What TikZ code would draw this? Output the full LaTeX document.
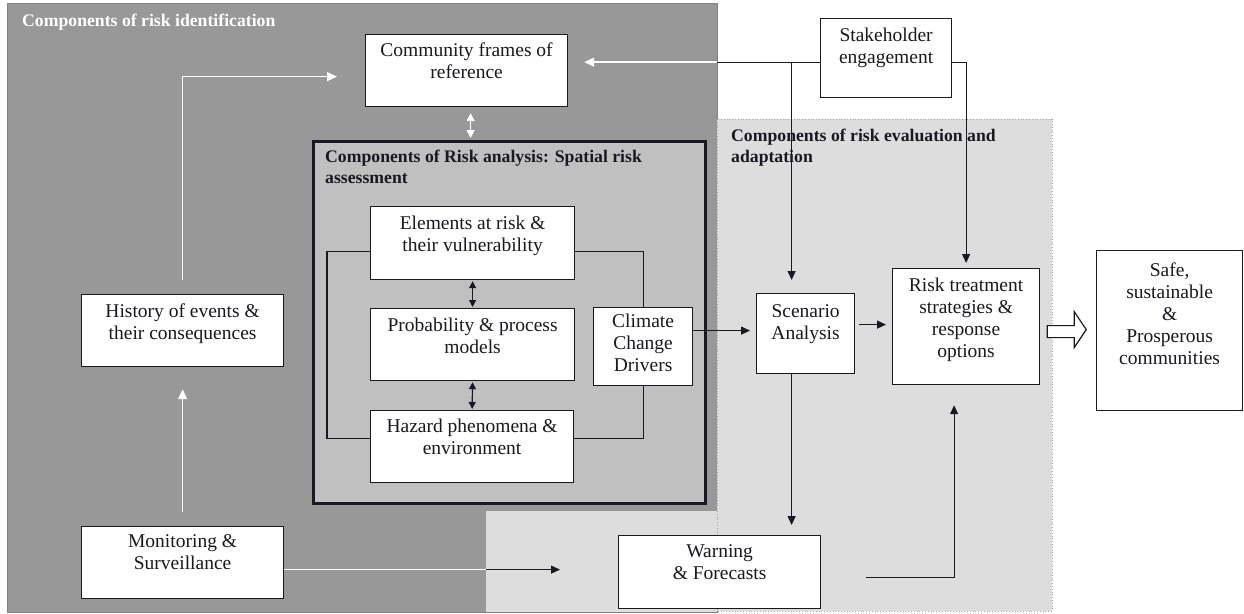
\documentclass[tikz,border=0pt]{standalone}
\usepackage{fontspec}
\setmainfont{Liberation Serif}
\usetikzlibrary{arrows.meta,calc}
\definecolor{darkreg}{RGB}{152,152,152}
\definecolor{anareg}{RGB}{192,192,192}
\definecolor{evalreg}{RGB}{221,221,221}
\definecolor{ink}{RGB}{25,25,35}
\newcommand\bxt[4]{\parbox[c][#2][t]{#1}{\centering\rule{0pt}{#3}#4}}
\begin{document}
\begin{tikzpicture}[x=1pt,y=-1pt,
  box/.style={draw=ink, line width=1.2pt, fill=white, inner sep=0pt, anchor=north west, text=ink, font=\fontsize{19.5}{22}\selectfont},
  conn/.style={draw=ink, line width=1.2pt},
  arr/.style={conn, -{Triangle[length=9pt,width=8pt]}},
  darr/.style={conn, {Triangle[length=7pt,width=7pt]}-{Triangle[length=7pt,width=7pt]}},
  wline/.style={draw=white, line width=1.3pt},
  warr/.style={wline, -{Triangle[length=10pt,width=9pt]}},
  wdarr/.style={wline, {Triangle[length=8pt,width=8pt]}-{Triangle[length=8pt,width=8pt]}},
  head/.style={inner sep=0pt, anchor=north west, align=left, font=\fontsize{17.7}{21}\selectfont\bfseries}
]
\useasboundingbox (0,0) rectangle (1244,613);
\fill[white] (0,0) rectangle (1244,613);
% regions
\filldraw[fill=darkreg, draw=darkreg!85!black, line width=0.6pt] (7,3) rectangle (717,612);
\filldraw[fill=evalreg, draw=gray!70, dotted, line width=0.8pt] (717,119) rectangle (1052,611);
\fill[evalreg] (486,511) rectangle (717,612);
\node[draw=ink, line width=2.5pt, fill=anareg, inner sep=0pt, minimum width=392pt, minimum height=362pt, anchor=north west] (ana) at (312,140) {};
% headings
\node[head, text=white] (hid) at (22,11) {\rule{0pt}{15pt}Components of risk identification};
\node[head, text=ink] (han) at (325,147) {\rule{0pt}{15pt}Components of Risk analysis: Spatial risk\\assessment};
\node[head, text=ink] (hev) at (731,126) {\rule{0pt}{15pt}Components of risk evaluation and\\adaptation};
% boxes
\node[box] (comm) at (365,34) {\bxt{202pt}{72pt}{22pt}{Community frames of\\reference}};
\node[box] (stake) at (820,18) {\bxt{131pt}{79pt}{23pt}{Stakeholder\\engagement}};
\node[box] (elem) at (370,206) {\bxt{204pt}{73pt}{23pt}{Elements at risk \&\\their vulnerability}};
\node[box] (prob) at (370,308) {\bxt{204pt}{72pt}{23pt}{Probability \& process\\models}};
\node[box] (haz) at (370,410) {\bxt{203pt}{72pt}{22pt}{Hazard phenomena \&\\environment}};
\node[box] (clim) at (593,307) {\bxt{99pt}{78pt}{20pt}{Climate\\Change\\Drivers}};
\node[box] (hist) at (81,294) {\bxt{202pt}{72pt}{23pt}{History of events \&\\their consequences}};
\node[box] (mon) at (81,526) {\bxt{202pt}{72pt}{21pt}{Monitoring \&\\Surveillance}};
\node[box] (scen) at (756,293) {\bxt{98pt}{80pt}{24pt}{Scenario\\Analysis}};
\node[box] (risk) at (892,268) {\bxt{147pt}{116pt}{23pt}{Risk treatment\\strategies \&\\response\\options}};
\node[box] (safe) at (1096,250) {\bxt{146pt}{160pt}{26pt}{Safe,\\sustainable\\\&\\Prosperous\\communities}};
\node[box] (warn) at (618,535) {\bxt{202pt}{73pt}{22pt}{Warning\\\& Forecasts}};
% helper coordinates
\coordinate (dge) at (717,0);
\coordinate (lx) at (486,0);
\coordinate (sk) at ($(stake.west)+(0,4)$);
\coordinate (sd) at ($(scen.north)+(-14,0)$);
\coordinate (ss) at ($(scen.south)+(-14,0)$);
\coordinate (we) at ($(warn.east)+(0,5)$);
\coordinate (rs) at ($(risk.south)+(-12,0)$);
\coordinate (mw) at ($(mon.east)+(0,7)$);
\coordinate (sw) at ($(scen.west)+(0,-3)$);
\coordinate (re) at ($(risk.west)+(0,-2)$);
\coordinate (cs) at ($(comm.south)+(4,0)$);
% connectors
\draw[conn] (sk) -- (sk -| dge);
\draw[warr, shorten >=16pt] (sk -| dge) -- (sk -| comm.east);
\draw[arr, shorten >=13pt] (sk -| sd) -- (sd);
\draw[arr, shorten >=5pt] ($(stake.east)+(0,4)$) -| (risk.north);
\draw[arr, shorten >=10pt] (ss) -- (ss |- warn.north);
\draw[arr, shorten <=45pt, shorten >=20pt] (we) -| (rs);
\draw[wline] (mw) -- (mw -| lx);
\draw[arr, shorten >=58pt] (mw -| lx) -- (mw -| warn.west);
\draw[arr, shorten >=6pt] (sw -| clim.east) -- (sw);
\draw[arr, shorten <=4pt, shorten >=6pt] (re -| scen.east) -- (re);
\draw[warr, shorten <=14pt, shorten >=28pt] (hist.north) |- ($(comm.west)+(0,6)$);
\draw[warr, shorten <=14pt, shorten >=22pt] (mon.north) -- (hist.south);
\draw[wdarr, shorten <=6pt, shorten >=2pt] (cs) -- (cs |- ana.north);
\draw[darr, shorten <=1pt, shorten >=1pt] (elem.south) -- (prob.north);
\draw[darr, shorten <=1pt, shorten >=1pt] (prob.south) -- (haz.north);
\draw[conn] ($(elem.west)+(0,8)$) -- ++(-43,0) |- ($(haz.west)+(0,-8)$);
\draw[conn] ($(elem.east)+(0,8)$) -| (clim.north);
\draw[conn] (clim.south) |- ($(haz.east)+(0,-8)$);
% block arrow
\draw[draw=ink, line width=1.2pt, fill=white, line join=miter] ($(risk.east)+(7,-1)$) -- ++(27,0) -- ++(0,-14) -- ++(12,18) -- ++(-12,18) -- ++(0,-10) -- ++(-27,0) -- cycle;
\end{tikzpicture}
\end{document}
